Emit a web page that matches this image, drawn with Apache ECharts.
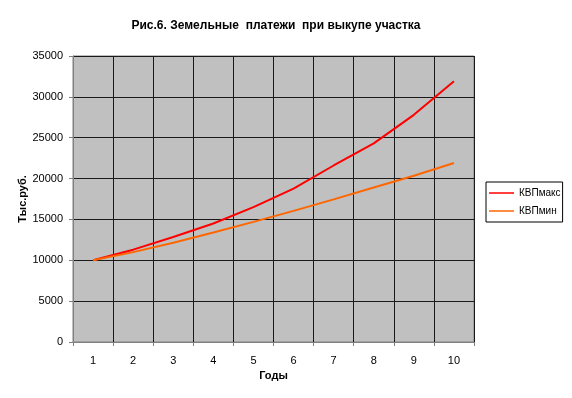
<!DOCTYPE html>
<html>
<head>
<meta charset="utf-8">
<script src="https://cdn.jsdelivr.net/npm/echarts@6/dist/echarts.min.js"></script>
<style>html,body{margin:0;padding:0;background:#fff}#c{width:572px;height:398px}</style>
</head>
<body>
<div id="c"></div>
<script>
var years = ['1','2','3','4','5','6','7','8','9','10'];
var kvpMax = [10000, 11300, 12850, 14500, 16500, 18770, 21600, 24300, 27800, 31900];
var kvpMin = [10000, 11000, 12150, 13400, 14700, 16050, 17450, 18900, 20350, 21900];
var yTicks = {min: 0, max: 35000, interval: 5000};

var font = 'Liberation Sans, Arial, sans-serif';
var chart = echarts.init(document.getElementById('c'), null, {renderer: 'canvas'});
chart.setOption({
  animation: false,
  backgroundColor: '#ffffff',
  title: {
    text: 'Рис.6. Земельные  платежи  при выкупе участка',
    left: 271, top: 15, textAlign: 'center',
    textStyle: {fontFamily: font, fontSize: 12, fontWeight: 'bold', color: '#000'}
  },
  legend: {
    orient: 'vertical',
    left: 486, top: 182,
    width: 74,
    padding: [5, 2, 5, 3],
    itemGap: 6,
    icon: 'rect',
    itemWidth: 25, itemHeight: 1.5,
    borderColor: '#000', borderWidth: 1,
    backgroundColor: '#fff',
    textStyle: {fontFamily: font, fontSize: 10, color: '#000', lineHeight: 12},
    data: ['КВПмакс', 'КВПмин']
  },
  grid: {
    left: 73, right: 98, top: 56, bottom: 56,
    show: true, backgroundColor: '#c0c0c0', borderColor: '#808080', borderWidth: 1
  },
  xAxis: {
    type: 'category',
    data: years,
    boundaryGap: true,
    name: 'Годы',
    nameLocation: 'middle',
    nameGap: 28,
    nameTextStyle: {fontFamily: font, fontSize: 11, fontWeight: 'bold', color: '#000'},
    axisLine: {lineStyle: {color: '#808080', width: 1}},
    axisTick: {show: true, length: 4, lineStyle: {color: '#808080'}},
    axisLabel: {fontFamily: font, fontSize: 11, color: '#000', margin: 13},
    splitLine: {show: true, lineStyle: {color: '#1a1a1a', width: 1}}
  },
  yAxis: {
    type: 'value',
    min: yTicks.min, max: yTicks.max, interval: yTicks.interval,
    name: 'Тыс.руб.',
    nameLocation: 'middle',
    nameGap: 45,
    nameMoveOverlap: false,
    nameTextStyle: {fontFamily: font, fontSize: 11, fontWeight: 'bold', color: '#000'},
    axisLine: {show: true, lineStyle: {color: '#808080', width: 1}},
    axisTick: {show: true, length: 4, lineStyle: {color: '#808080'}},
    axisLabel: {fontFamily: font, fontSize: 11, color: '#000', margin: 10,
      formatter: function (v) { return String(v); }},
    splitLine: {show: true, lineStyle: {color: '#1a1a1a', width: 1}}
  },
  series: [
    {
      name: 'КВПмакс', type: 'line', data: kvpMax,
      symbol: 'none', smooth: false,
      lineStyle: {color: '#ff0000', width: 2},
      itemStyle: {color: '#ff0000'}
    },
    {
      name: 'КВПмин', type: 'line', data: kvpMin,
      symbol: 'none', smooth: false,
      lineStyle: {color: '#ff6600', width: 2},
      itemStyle: {color: '#ff6600'}
    }
  ]
});
</script>
</body>
</html>
